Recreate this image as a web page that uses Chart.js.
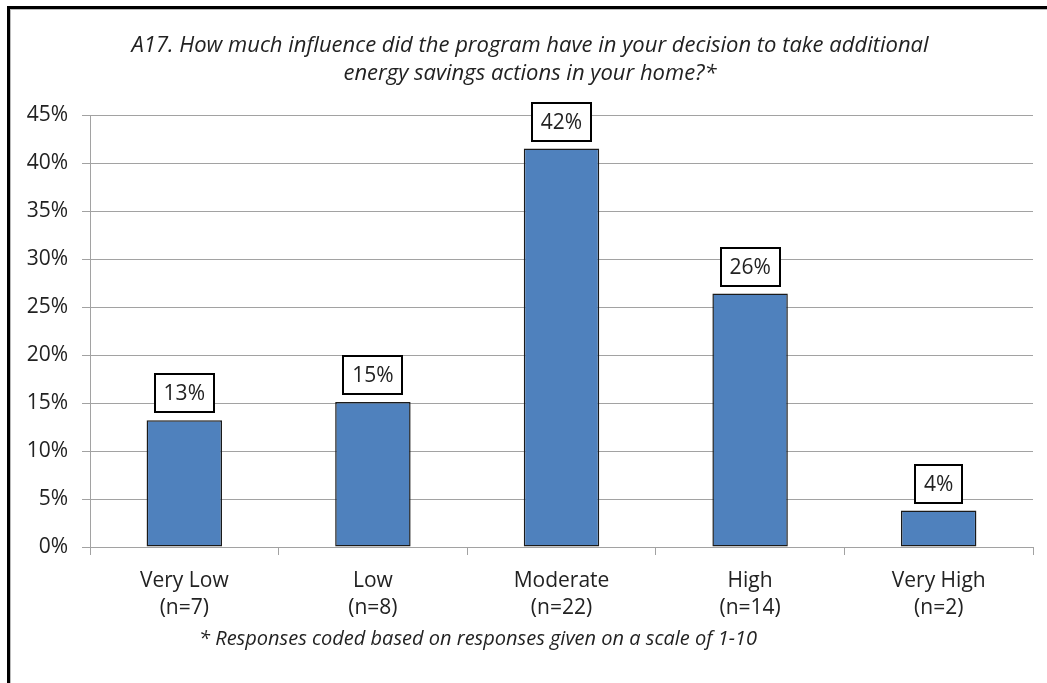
<!DOCTYPE html>
<html>
<head>
<meta charset="utf-8">
<script src="https://cdn.jsdelivr.net/npm/chart.js@4"></script>
<style>
  html, body { margin: 0; padding: 0; background: #fff; }
  #wrap { position: relative; width: 1047px; height: 683px; overflow: hidden; }
  #frame {
    position: absolute; left: 7px; top: 6px; width: 1200px; height: 900px;
    border: 3px solid #000; box-shadow: inset 1px 1px 0 #bbb;
  }
  canvas { position: absolute; left: 0; top: 0; }
</style>
</head>
<body>
<div id="wrap">
  <div id="frame"></div>
  <canvas id="myChart" width="1047" height="683"></canvas>
</div>
<script>
/*----------- data ------------ */
const levels = ['Very Low', 'Low', 'Moderate', 'High', 'Very High'];
const counts = ['(n=7)', '(n=8)', '(n=22)', '(n=14)', '(n=2)'];
const shares = [13.2, 15.1, 41.5, 26.4, 3.8];
const yTicks = [0, 5, 10, 15, 20, 25, 30, 35, 40, 45];

const titleLines = [
    'A17. How much influence did the program have in your decision to take additional',
    'energy savings actions in your home?*'
];
const footnote = '* Responses coded based on responses given on a scale of 1-10';

const FONT = '"Open Sans", "Noto Sans", sans-serif';
const INK = '#222';
const GRID = '#a2a2a2';

// boxed percentage above each bar
const valueBoxes = {
    id: 'valueBoxes',
    afterDatasetsDraw(chart) {
        const ctx = chart.ctx;
        const meta = chart.getDatasetMeta(0);
        ctx.save();
        ctx.font = '21px ' + FONT;
        ctx.textAlign = 'center';
        ctx.textBaseline = 'middle';
        meta.data.forEach((bar, i) => {
            const txt = Math.round(shares[i]) + '%';
            const w = Math.round(ctx.measureText(txt).width) + 18, h = 38;
            const x = Math.round(bar.x - w / 2);
            const y = Math.round(bar.y - 8 - h);
            ctx.fillStyle = '#fff';
            ctx.fillRect(x, y, w, h);
            ctx.lineWidth = 2;
            ctx.strokeStyle = '#000';
            ctx.strokeRect(x, y, w, h);
            ctx.fillStyle = INK;
            ctx.fillText(txt, bar.x, y + h / 2 + 1);
        });
        ctx.restore();
    }
};

// title on top and footnote under the axis labels
const captions = {
    id: 'captions',
    afterDraw(chart) {
        const ctx = chart.ctx;
        ctx.save();
        ctx.fillStyle = INK;
        ctx.textAlign = 'center';
        ctx.textBaseline = 'alphabetic';
        ctx.font = 'italic 22px ' + FONT;
        ctx.fillText(titleLines[0], 530, 52);
        ctx.fillText(titleLines[1], 530, 80);
        ctx.font = 'italic 20px ' + FONT;
        ctx.fillText(footnote, 478, 645);
        ctx.restore();
    }
};

const data = {
    labels: levels.map((l, i) => [l, counts[i]]),
    datasets: [{
        data: shares,
        backgroundColor: '#4f81bd',
        borderColor: '#1a1a1a',
        borderWidth: 1.5,
        borderSkipped: false,
        barPercentage: 0.4,
        categoryPercentage: 1.0,
    }]
};

const config = {
    type: 'bar',
    data: data,
    options: {
        responsive: false,
        animation: false,
        layout: {
            padding: { top: 115, right: 14, left: 0, bottom: 0 }
        },
        plugins: {
            legend: { display: false },
            tooltip: { enabled: false }
        },
        scales: {
            x: {
                afterFit(scale) { scale.height = 136; },
                grid: {
                    drawOnChartArea: false,
                    drawTicks: true,
                    tickLength: 8,
                    color: GRID,
                    offset: true
                },
                border: { color: GRID, width: 1 },
                ticks: {
                    color: INK,
                    font: { family: FONT, size: 21, lineHeight: 1.3 },
                    padding: 12
                }
            },
            y: {
                min: 0,
                max: 45,
                afterFit(scale) { scale.width = 90; },
                afterBuildTicks(scale) {
                    scale.ticks = yTicks.map(v => ({ value: v }));
                },
                grid: {
                    color: GRID,
                    tickLength: 8
                },
                border: { color: GRID, width: 1 },
                ticks: {
                    color: INK,
                    font: { family: FONT, size: 21 },
                    padding: 14,
                    callback: v => v + '%'
                }
            }
        }
    },
    plugins: [valueBoxes, captions]
};

const myChart = new Chart(
    document.getElementById('myChart'),
    config
);
</script>
</body>
</html>
